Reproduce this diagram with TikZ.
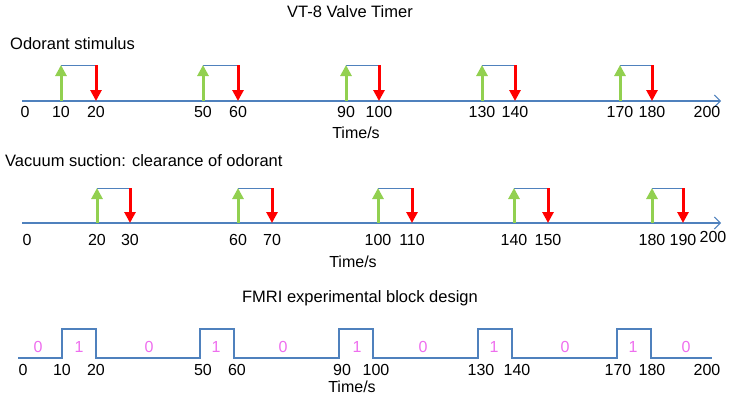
\documentclass[tikz,border=0pt]{standalone}
\usepackage{fontspec}
\setmainfont{Liberation Sans}
\usetikzlibrary{arrows.meta}
\definecolor{axblue}{RGB}{79,129,189}
\definecolor{grn}{RGB}{146,208,80}
\definecolor{rd}{RGB}{255,0,0}
\definecolor{pnk}{RGB}{238,110,238}
\tikzset{
  axisline/.style={draw=axblue, line width=1.3pt, -{Straight Barb[length=6pt,width=12pt,line width=1pt]}},
  link/.style={draw=axblue, line width=1pt},
  wave/.style={draw=axblue, line width=1.2pt},
  uparrow/.style={draw=grn, line width=3pt, -{Triangle[length=11pt,width=11pt]}},
  downarrow/.style={draw=rd, line width=3pt, -{Triangle[length=11pt,width=11pt]}},
  lbl/.style={inner sep=0pt, font=\fontsize{16}{19}\selectfont},
  ttl/.style={inner sep=0pt, font=\fontsize{16.5}{20}\selectfont},
  blk/.style={inner sep=0pt, text=pnk, font=\fontsize{16}{19}\selectfont}
}
\begin{document}
\begin{tikzpicture}[x=1pt,y=-1pt]
\useasboundingbox (0,0) rectangle (731,402);
% titles
\node[ttl] (title) at (350,12) {VT-8 Valve Timer};
\node[ttl, anchor=west] (odor) at (10,44) {Odorant stimulus};
\node[ttl, anchor=west] (vac) at (5,161) {Vacuum suction: clearance of odorant};
\node[ttl] (fmri) at (360,298) {FMRI experimental block design};

% top panel
\coordinate (a1s) at (22,101);
\coordinate (a1e) at (721,101);
\draw[axisline] (a1s) -- (a1e);
\foreach \g/\r [count=\i] in {61/96,203/238,346/379,482/515,620/652}{
  \coordinate (tg\i) at (\g,101);
  \coordinate (tgt\i) at (\g,65);
  \coordinate (trt\i) at (\r,65);
  \coordinate (tr\i) at (\r,101);
  \draw[link] (tgt\i) -- (trt\i);
  \draw[uparrow] (tg\i) -- (tgt\i);
  \draw[downarrow] (trt\i) -- (tr\i);
}
\foreach \x/\t [count=\i] in {25/0,61/10,96/20,203/50,238/60,346/90,379/100,482/130,515/140,620/170,652/180,707/200}{
  \node[lbl] (tl\i) at (\x,112) {\t};
}
\node[lbl] (time1) at (356,133) {Time/s};

% middle panel
\coordinate (a2s) at (22,223);
\coordinate (a2e) at (721,223);
\draw[axisline] (a2s) -- (a2e);
\foreach \g/\r [count=\i] in {97/130,238/272,378/412,514/548,652/683}{
  \coordinate (mg\i) at (\g,223);
  \coordinate (mgt\i) at (\g,188);
  \coordinate (mrt\i) at (\r,188);
  \coordinate (mr\i) at (\r,223);
  \draw[link] (mgt\i) -- (mrt\i);
  \draw[uparrow] (mg\i) -- (mgt\i);
  \draw[downarrow] (mrt\i) -- (mr\i);
}
\foreach \x/\t [count=\i] in {27/0,97/20,130/30,238/60,272/70,378/100,412/110,514/140,548/150,652/180,683/190}{
  \node[lbl] (ml\i) at (\x,240) {\t};
}
\node[lbl] (ml12) at (713,237) {200};
\node[lbl] (time2) at (353,262) {Time/s};

% bottom panel
\coordinate (w0) at (18,358);
\coordinate (w13) at (712,358);
\draw[wave] (w0) -- (62,358) -- (62,329) -- (96,329) -- (96,358)
  -- (200,358) -- (200,329) -- (234,329) -- (234,358)
  -- (339,358) -- (339,329) -- (373,329) -- (373,358)
  -- (478,358) -- (478,329) -- (512,329) -- (512,358)
  -- (617,358) -- (617,329) -- (651,329) -- (651,358) -- (w13);
\foreach \x/\t [count=\i] in {38/0,79/1,149/0,216/1,283/0,357/1,423/0,494/1,565/0,633/1,686/0}{
  \node[blk] (bk\i) at (\x,347) {\t};
}
\foreach \x/\t [count=\i] in {23/0,62/10,96/20,203/50,237/60,342/90,376/100,481/130,517/140,618/170,652/180,707/200}{
  \node[lbl] (bl\i) at (\x,370) {\t};
}
\node[lbl] (time3) at (352,387) {Time/s};
\end{tikzpicture}
\end{document}
